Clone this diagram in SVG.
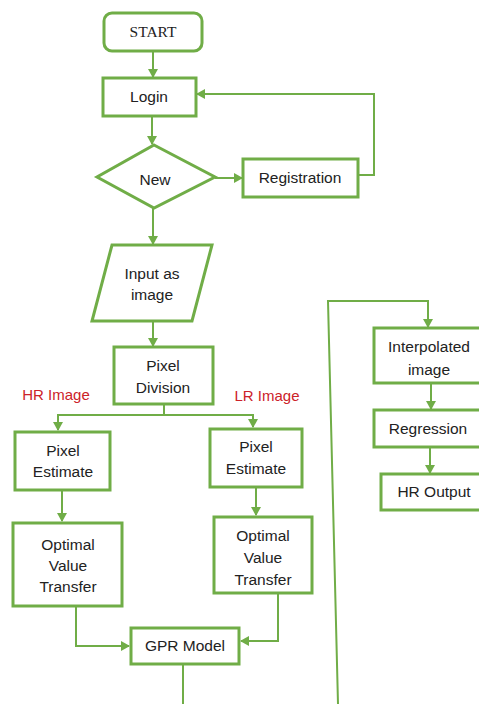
<svg xmlns="http://www.w3.org/2000/svg" width="479" height="704" viewBox="0 0 479 704">
<defs>
<marker id="ah" markerWidth="10" markerHeight="10" refX="8" refY="5" orient="auto" markerUnits="userSpaceOnUse">
<path d="M0,0 L9,5 L0,10 z" fill="#70AD47"/>
</marker>
<style>
.n{fill:#fff;stroke:#70AD47;stroke-width:3}
.c{fill:none;stroke:#70AD47;stroke-width:2}
.t{font-family:"Liberation Sans",Arial,sans-serif;font-size:15.5px;fill:#222;text-anchor:middle}
.s{font-family:"Liberation Serif","Times New Roman",serif;font-size:15.5px;fill:#222;text-anchor:middle}
.r{font-family:"Liberation Sans",Arial,sans-serif;font-size:15px;fill:#CC2229;text-anchor:middle}
</style>
</defs>
<rect width="479" height="704" fill="#fff"/>
<g id="connectors">
<path class="c" d="M153,52 V77" marker-end="url(#ah)"/>
<path class="c" d="M152,117 V144" marker-end="url(#ah)"/>
<path class="c" d="M215,178 H242" marker-end="url(#ah)"/>
<path class="c" d="M358,175 H374 V94 H197" marker-end="url(#ah)"/>
<path class="c" d="M153,208 V244" marker-end="url(#ah)"/>
<path class="c" d="M153,321 V346" marker-end="url(#ah)"/>
<path class="c" d="M164,405 V415"/>
<path class="c" d="M58,415 H253"/>
<path class="c" d="M58,414 V430" marker-end="url(#ah)"/>
<path class="c" d="M253,414 V427" marker-end="url(#ah)"/>
<path class="c" d="M62,491 V521" marker-end="url(#ah)"/>
<path class="c" d="M256,488 V515" marker-end="url(#ah)"/>
<path class="c" d="M76,607 V646 H129" marker-end="url(#ah)"/>
<path class="c" d="M278,594 V641 H241" marker-end="url(#ah)"/>
<path class="c" d="M183,665 V704"/>
<path class="c" d="M338,704 L328,301 H428 V327" marker-end="url(#ah)"/>
<path class="c" d="M431,384 V409" marker-end="url(#ah)"/>
<path class="c" d="M430,448 V473" marker-end="url(#ah)"/>
</g>
<g id="start">
<rect class="n" x="104" y="13" width="98" height="38" rx="8"/>
<text class="s" x="153" y="37">START</text>
</g>
<g id="login">
<rect class="n" x="103" y="78" width="93" height="38"/>
<text class="t" x="149" y="102">Login</text>
</g>
<g id="new">
<polygon class="n" points="154,145 215,177 154,208 97,177"/>
<text class="t" x="155" y="185">New</text>
</g>
<g id="registration">
<rect class="n" x="243" y="159" width="115" height="38"/>
<text class="t" x="300" y="183">Registration</text>
</g>
<g id="input">
<polygon class="n" points="112,245 212,245 192,321 92,321"/>
<text class="t" x="152" y="279">Input as</text>
<text class="t" x="152" y="300">image</text>
</g>
<g id="pixel-division">
<rect class="n" x="114" y="347" width="99" height="57"/>
<text class="t" x="163" y="371">Pixel</text>
<text class="t" x="163" y="393">Division</text>
</g>
<text class="r" x="56" y="400">HR Image</text>
<text class="r" x="267" y="401">LR Image</text>
<g id="pixel-estimate-hr">
<rect class="n" x="15" y="432" width="95" height="58"/>
<text class="t" x="63" y="456">Pixel</text>
<text class="t" x="63" y="477">Estimate</text>
</g>
<g id="pixel-estimate-lr">
<rect class="n" x="210" y="429" width="92" height="58"/>
<text class="t" x="256" y="452">Pixel</text>
<text class="t" x="256" y="474">Estimate</text>
</g>
<g id="optimal-hr">
<rect class="n" x="13" y="523" width="109" height="83"/>
<text class="t" x="68" y="550">Optimal</text>
<text class="t" x="68" y="571">Value</text>
<text class="t" x="68" y="592">Transfer</text>
</g>
<g id="optimal-lr">
<rect class="n" x="214" y="517" width="98" height="76"/>
<text class="t" x="263" y="541">Optimal</text>
<text class="t" x="263" y="563">Value</text>
<text class="t" x="263" y="585">Transfer</text>
</g>
<g id="gpr">
<rect class="n" x="131" y="628" width="108" height="36"/>
<text class="t" x="185" y="651">GPR Model</text>
</g>
<g id="interpolated">
<rect class="n" x="374" y="328" width="120" height="55"/>
<text class="t" x="429" y="352">Interpolated</text>
<text class="t" x="429" y="375">image</text>
</g>
<g id="regression">
<rect class="n" x="374" y="410" width="120" height="37"/>
<text class="t" x="428" y="434">Regression</text>
</g>
<g id="hr-output">
<rect class="n" x="381" y="474" width="110" height="36"/>
<text class="t" x="434" y="497">HR Output</text>
</g>
</svg>
